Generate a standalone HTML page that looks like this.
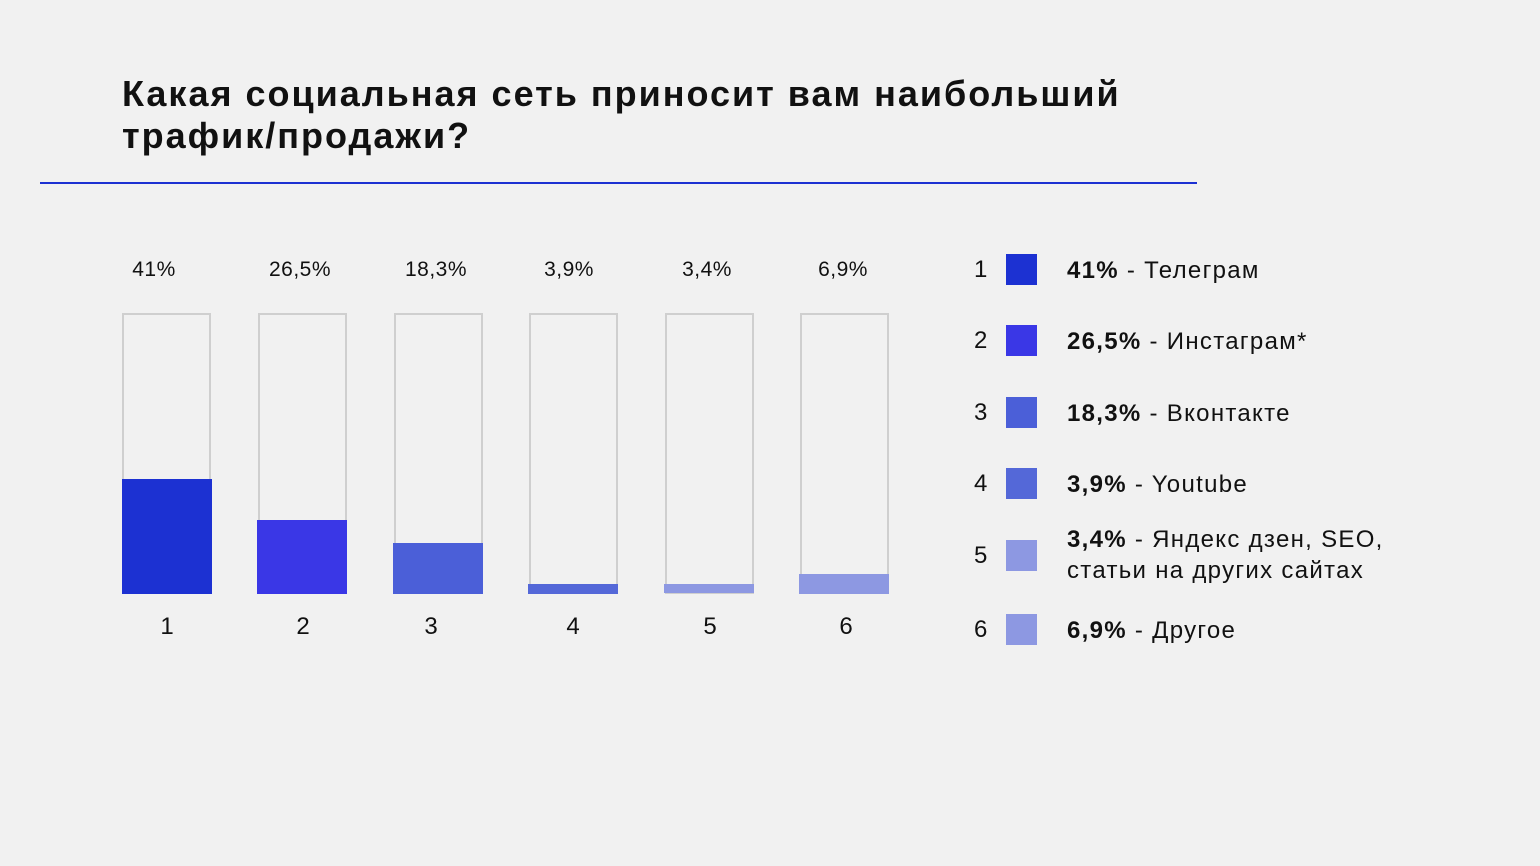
<!DOCTYPE html>
<html><head><meta charset="utf-8"><style>
body{margin:0;width:1540px;height:866px;background:#f1f1f1;font-family:"Liberation Sans","DejaVu Sans",sans-serif;color:#111;position:relative;overflow:hidden}
.a{position:absolute}
.t{font-weight:bold;font-size:36px;left:122px;line-height:42px;top:73px;letter-spacing:2px}
.o{position:absolute;border:2px solid #cfcfcf;box-sizing:border-box;width:89px;top:313px;height:281px}
.f{position:absolute;width:90px}
.pl{position:absolute;top:258px;font-size:21px;width:120px;text-align:center;letter-spacing:0.5px}
.bl{position:absolute;top:613px;font-size:24px;width:40px;text-align:center}
.sq{position:absolute;left:1006px;width:31px;height:31px}
.n{position:absolute;left:974px;font-size:24px}
.lt{position:absolute;left:1067px;font-size:24px;line-height:31px;letter-spacing:1.3px}
</style></head><body>
<div class="a t">Какая социальная сеть приносит вам наибольший<br>трафик/продажи?</div>
<div class="a" style="left:40px;top:182px;width:1157px;height:2px;background:#1c31d2"></div>

<div class="o" style="left:122px"></div><div class="f" style="left:122px;top:479px;height:115px;background:#1c31d2"></div>
<div class="o" style="left:258px"></div><div class="f" style="left:257px;top:520px;height:74px;background:#3a37e6"></div>
<div class="o" style="left:394px"></div><div class="f" style="left:393px;top:543px;height:51px;background:#4b5fd8"></div>
<div class="o" style="left:529px"></div><div class="f" style="left:528px;top:584px;height:10px;background:#5468d8"></div>
<div class="o" style="left:665px"></div><div class="f" style="left:664px;top:584px;height:9px;background:#8d98e2"></div>
<div class="o" style="left:800px"></div><div class="f" style="left:799px;top:574px;height:20px;background:#8d98e2"></div>

<div class="pl" style="left:94px">41%</div>
<div class="pl" style="left:240px">26,5%</div>
<div class="pl" style="left:376px">18,3%</div>
<div class="pl" style="left:509px">3,9%</div>
<div class="pl" style="left:647px">3,4%</div>
<div class="pl" style="left:783px">6,9%</div>

<div class="bl" style="left:147px">1</div>
<div class="bl" style="left:283px">2</div>
<div class="bl" style="left:411px">3</div>
<div class="bl" style="left:553px">4</div>
<div class="bl" style="left:690px">5</div>
<div class="bl" style="left:826px">6</div>

<div class="sq" style="top:254px;background:#1c31d2"></div><div class="n" style="top:256px">1</div>
<div class="lt" style="top:255px"><b>41%</b> - Телеграм</div>
<div class="sq" style="top:325px;background:#3a37e6"></div><div class="n" style="top:327px">2</div>
<div class="lt" style="top:326px"><b>26,5%</b> - Инстаграм*</div>
<div class="sq" style="top:397px;background:#4b5fd8"></div><div class="n" style="top:399px">3</div>
<div class="lt" style="top:398px"><b>18,3%</b> - Вконтакте</div>
<div class="sq" style="top:468px;background:#5468d8"></div><div class="n" style="top:470px">4</div>
<div class="lt" style="top:469px"><b>3,9%</b> - Youtube</div>
<div class="sq" style="top:540px;background:#8d98e2"></div><div class="n" style="top:542px">5</div>
<div class="lt" style="top:524px"><b>3,4%</b> - Яндекс дзен, SEO,<br>статьи на других сайтах</div>
<div class="sq" style="top:614px;background:#8d98e2"></div><div class="n" style="top:616px">6</div>
<div class="lt" style="top:615px"><b>6,9%</b> - Другое</div>
</body></html>
